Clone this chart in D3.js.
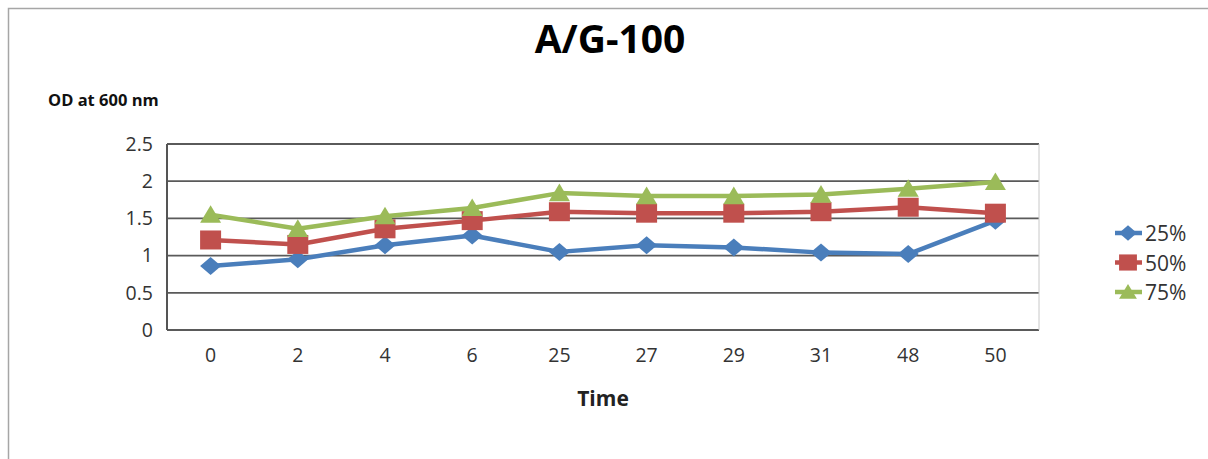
<!DOCTYPE html>
<html><head><meta charset="utf-8">
<script src="https://cdn.jsdelivr.net/npm/d3@7"></script>
<style>body{margin:0;background:#fff}svg{display:block}</style>
</head><body>
<svg id="c" width="1208" height="459"></svg>
<script>
const categories = ["0","2","4","6","25","27","29","31","48","50"];
const s25 = [0.86,0.95,1.14,1.27,1.05,1.14,1.11,1.04,1.02,1.47];
const s50 = [1.21,1.15,1.36,1.47,1.59,1.57,1.57,1.59,1.65,1.57];
const s75 = [1.55,1.36,1.53,1.64,1.84,1.80,1.80,1.82,1.90,1.99];
const seriesNames = ["25%","50%","75%"];
const yTicks = [0,0.5,1,1.5,2,2.5];

const series = [
  {name:seriesNames[0], values:s25, color:"#4A7EBB", shape:"diamond"},
  {name:seriesNames[1], values:s50, color:"#C0504D", shape:"square"},
  {name:seriesNames[2], values:s75, color:"#9BBB59", shape:"triangle"}
];

const svg = d3.select("#c");
const font = "'Open Sans', 'DejaVu Sans', sans-serif";
const L=167, R=1039, T=144, B=330;

svg.append("path").attr("d","M8.5,459 L8.5,8.5 L1208,8.5").attr("fill","none").attr("stroke","#a6a6a6").attr("stroke-width",1.5);

const x = d3.scaleBand().domain(categories).range([L,R]);
const y = d3.scaleLinear().domain([0,2.5]).range([B,T]);

svg.append("g").selectAll("line").data(yTicks).join("line")
  .attr("x1",L).attr("x2",R).attr("y1",d=>y(d)).attr("y2",d=>y(d))
  .attr("stroke","#5a5a5a").attr("stroke-width",1.8);
svg.append("line").attr("x1",R).attr("x2",R).attr("y1",T).attr("y2",B).attr("stroke","#c8c8c8").attr("stroke-width",1);
svg.append("line").attr("x1",L).attr("x2",L).attr("y1",T).attr("y2",B).attr("stroke","#555").attr("stroke-width",2);

const ya = svg.append("g").attr("transform",`translate(${L},0)`)
  .call(d3.axisLeft(y).tickValues(yTicks).tickSize(0).tickPadding(14).tickFormat(d=>String(d)));
ya.select(".domain").remove();
ya.selectAll("text").attr("font-family",font).attr("font-size",19.5).attr("fill","#333");

const xa = svg.append("g").attr("transform",`translate(0,${B})`)
  .call(d3.axisBottom(x).tickSize(0).tickPadding(18));
xa.select(".domain").remove();
xa.selectAll("text").attr("font-family",font).attr("font-size",19.5).attr("fill","#333");

// custom markers (wider than tall, like the reference)
function markerPath(shape, k){
  k = k||1;
  if(shape==="diamond"){ const w=10.5*k,h=9*k; return `M${-w},0L0,${-h}L${w},0L0,${h}Z`; }
  if(shape==="square"){ const w=10.5*k,h=9.5*k; return `M${-w},${-h}H${w}V${h}H${-w}Z`; }
  const w=10.5*k,h=9.5*k; return `M0,${-h}L${w},${h*0.85}L${-w},${h*0.85}Z`;
}

const line = d3.line().x((d,i)=>x(categories[i])+x.bandwidth()/2).y(d=>y(d));
series.forEach(s=>{
  svg.append("path").datum(s.values).attr("d",line).attr("fill","none")
    .attr("stroke",s.color).attr("stroke-width",4.5).attr("stroke-linejoin","round");
  svg.append("g").selectAll("path").data(s.values).join("path")
    .attr("transform",(d,i)=>`translate(${x(categories[i])+x.bandwidth()/2},${y(d)})`)
    .attr("d",markerPath(s.shape))
    .attr("fill",s.color);
});

svg.append("text").attr("x",610).attr("y",53).attr("text-anchor","middle")
  .attr("font-family",font).attr("font-weight","bold").attr("font-size",39).attr("fill","#000").text("A/G-100");
svg.append("text").attr("x",48).attr("y",106)
  .attr("font-family",font).attr("font-weight","bold").attr("font-size",16.5).attr("fill","#111").text("OD at 600 nm");
svg.append("text").attr("x",603).attr("y",406).attr("text-anchor","middle")
  .attr("font-family",font).attr("font-weight","bold").attr("font-size",21).attr("fill","#222").text("Time");

const lg = svg.append("g");
series.forEach((s,i)=>{
  const yy = 233 + i*29.5;
  lg.append("line").attr("x1",1115).attr("x2",1142).attr("y1",yy).attr("y2",yy).attr("stroke",s.color).attr("stroke-width",4.5);
  lg.append("path").attr("transform",`translate(1128,${yy})`).attr("d",markerPath(s.shape,0.85)).attr("fill",s.color);
  lg.append("text").attr("x",1145).attr("y",yy+8).attr("font-family",font).attr("font-size",21).attr("fill","#333").text(s.name);
});
</script>
</body></html>
